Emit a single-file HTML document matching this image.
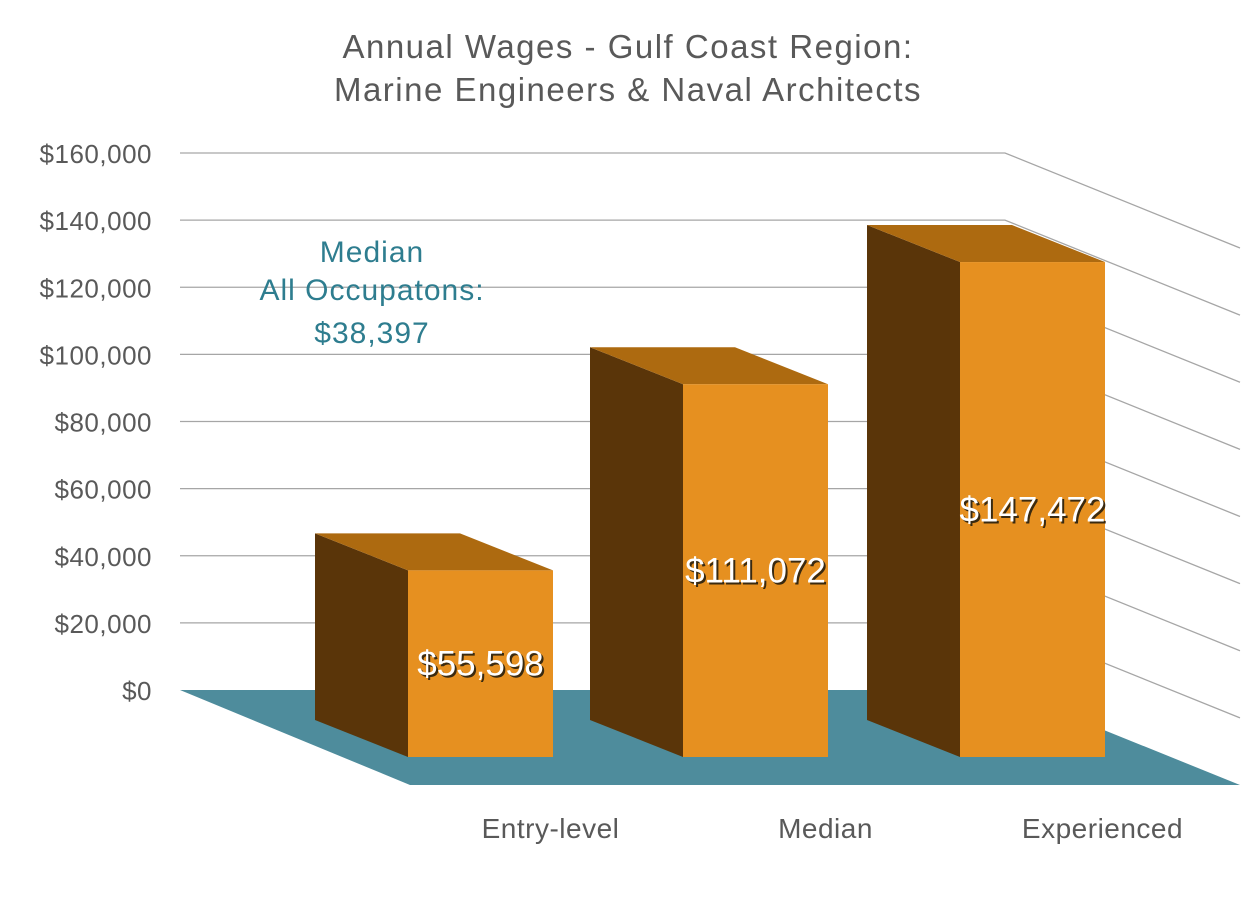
<!DOCTYPE html>
<html><head><meta charset="utf-8"><style>
body{margin:0;background:#fff}
svg text{font-family:"Liberation Sans","DejaVu Sans",sans-serif}
</style></head><body>
<svg id="chart" width="1255" height="895" viewBox="0 0 1255 895" xmlns="http://www.w3.org/2000/svg">
<text x="628" y="58" text-anchor="middle" font-size="33" letter-spacing="1.5" fill="#595959">Annual Wages - Gulf Coast Region:</text>
<text x="628" y="101" text-anchor="middle" font-size="33" letter-spacing="1.5" fill="#595959">Marine Engineers &amp; Naval Architects</text>
<g id="grid"></g>
<g id="yticks"></g>
<g id="bars"></g>
<g id="xlabels"></g>
<g fill="#2e7d8f" font-size="30" letter-spacing="1" text-anchor="middle">
<text x="372" y="262">Median</text>
<text x="372" y="300">All Occupatons:</text>
<text x="372" y="343">$38,397</text>
</g>
</svg>
<script>
const categories=["Entry-level","Median","Experienced"];
const values=[55598,111072,147472];
const valueLabels=["$55,598","$111,072","$147,472"];
const tickValues=[0,20000,40000,60000,80000,100000,120000,140000,160000];
const tickLabels=["$0","$20,000","$40,000","$60,000","$80,000","$100,000","$120,000","$140,000","$160,000"];
const NS="http://www.w3.org/2000/svg";
const wallX0=180,wallX1=1005,base=690,wallTop=153,maxV=160000;
const sdx=235,sdy=95;
const yScale=v=>base-(v/maxV)*(base-wallTop);
const hScale=v=>(v/maxV)*(base-wallTop);
function mk(tag,attrs,parent){const e=document.createElementNS(NS,tag);for(const k in attrs)e.setAttribute(k,attrs[k]);parent.appendChild(e);return e;}
const grid=document.getElementById('grid'),yt=document.getElementById('yticks'),bars=document.getElementById('bars'),xl=document.getElementById('xlabels');
const floor=mk('polygon',{points:`${wallX0},${base} ${wallX1},${base} ${wallX1+sdx},${base+sdy} 410,${base+sdy}`,fill:'#4e8c9c'},grid);


tickValues.forEach((t,i)=>{
  const yy=yScale(t);
  if(t>0){
    const l=mk('polyline',{points:`${wallX0},${yy} ${wallX1},${yy} ${wallX1+sdx},${yy+sdy}`,fill:'none',stroke:'#a6a6a6','stroke-width':1.3},grid);
    
    
  }
  const tx=mk('text',{x:152,y:yy+10,'text-anchor':'end','font-size':26,'letter-spacing':0.5,fill:'#595959'},yt);
  tx.textContent=tickLabels[i];
  
  
});
const frontX=[408,683,960],bw=145,ddx=93,ddy=37,frontBase=757;
values.forEach((v,i)=>{
  const fx=frontX[i],ft=frontBase-hScale(v),bx=fx-ddx,bt=ft-ddy;
  const g=mk('g',{},bars);
  
  
  mk('polygon',{points:`${bx},${bt} ${fx},${ft} ${fx},${frontBase} ${bx},${frontBase-ddy}`,fill:'#5a3509'},g);
  mk('polygon',{points:`${bx},${bt} ${bx+bw},${bt} ${fx+bw},${ft} ${fx},${ft}`,fill:'#ad6a10'},g);
  mk('rect',{x:fx,y:ft,width:bw,height:frontBase-ft,fill:'#e69020'},g);
  const ly=(ft+frontBase)/2+12;
  const sh=mk('text',{x:fx+bw/2+2,y:ly+2,'text-anchor':'middle','font-size':35,fill:'#3a2a10'},g);
  sh.textContent=valueLabels[i];
  const lt=mk('text',{x:fx+bw/2,y:ly,'text-anchor':'middle','font-size':35,fill:'#fff'},g);
  lt.textContent=valueLabels[i];
  
  
  const cx=mk('text',{x:fx+bw/2+70,y:838,'text-anchor':'middle','font-size':28,'letter-spacing':0.5,fill:'#595959'},xl);
  cx.textContent=categories[i];
  
  
});
</script>
</body></html>
